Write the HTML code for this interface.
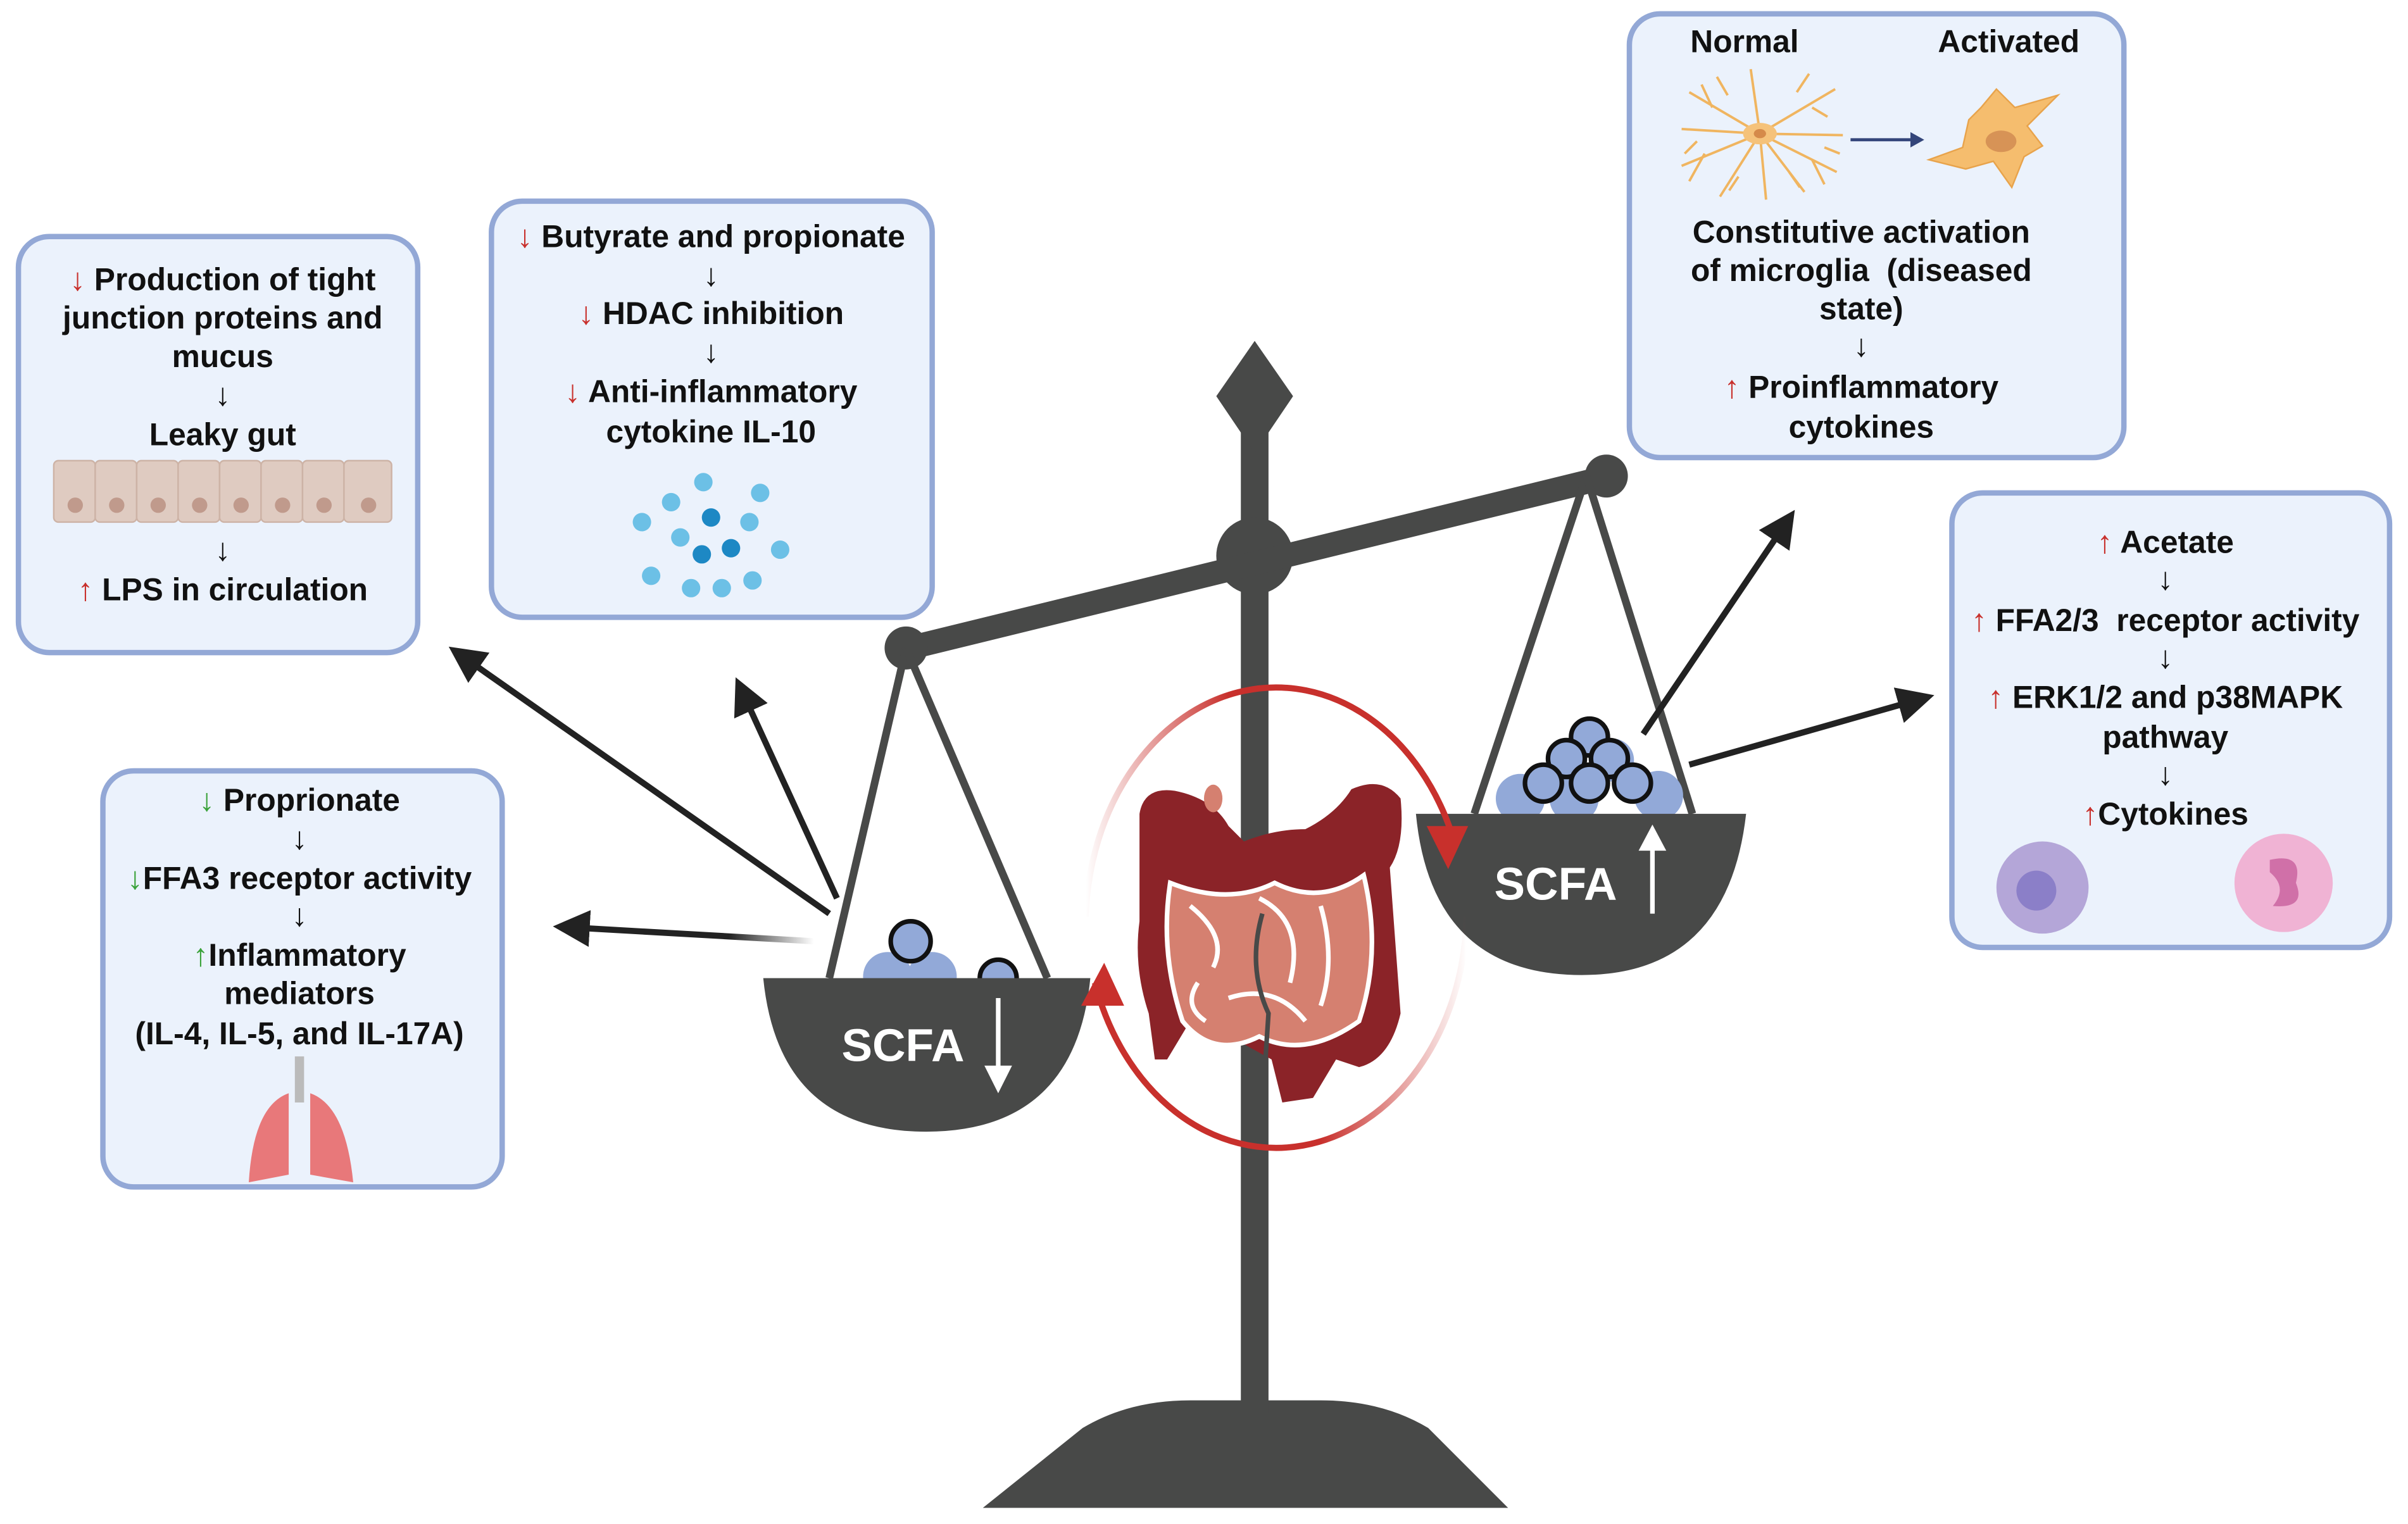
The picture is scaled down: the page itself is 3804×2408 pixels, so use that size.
<!DOCTYPE html>
<html><head><meta charset="utf-8"><style>
html,body{margin:0;padding:0;background:#fff;}
svg{display:block;}
text{font-family:"Liberation Sans",sans-serif;font-weight:bold;fill:#111;}
.c{text-anchor:middle;font-size:20.5px;}
.r{fill:#c8302c;}
.g{fill:#3aa23a;}
</style></head><body>
<svg width="3804" height="2408" viewBox="0 0 1568 992.5" xmlns="http://www.w3.org/2000/svg">
<defs>
<linearGradient id="fadeL" x1="1" y1="0" x2="0" y2="0"><stop offset="0" stop-color="#222" stop-opacity="0"/><stop offset="0.35" stop-color="#222"/><stop offset="1" stop-color="#222"/></linearGradient>
<linearGradient id="cycB" gradientUnits="userSpaceOnUse" x1="707" y1="0" x2="800" y2="0"><stop offset="0" stop-color="#c8302c" stop-opacity="0"/><stop offset="1" stop-color="#c8302c"/></linearGradient>
<linearGradient id="cycC" gradientUnits="userSpaceOnUse" x1="860" y1="0" x2="955" y2="0"><stop offset="0" stop-color="#c8302c"/><stop offset="1" stop-color="#c8302c" stop-opacity="0"/></linearGradient>
<marker id="ah" markerWidth="6" markerHeight="6" refX="3" refY="3" orient="auto" markerUnits="strokeWidth"><path d="M0,0 L6,3 L0,6 Z" fill="#222"/></marker>
</defs>

<!-- boxes -->
<g fill="#ebf2fc" stroke="#93a8d6" stroke-width="3.5">
<rect x="12" y="154" width="260" height="271" rx="20"/>
<rect x="320" y="131" width="287" height="271" rx="20"/>
<rect x="1061" y="9" width="322" height="289" rx="20"/>
<rect x="1271" y="321" width="285" height="296" rx="20"/>
<rect x="67" y="502" width="260" height="271" rx="20"/>
</g>

<!-- box1 -->
<text class="c" x="145" y="189"><tspan class="r">↓</tspan> Production of tight</text>
<text class="c" x="145" y="214">junction proteins and</text>
<text class="c" x="145" y="239">mucus</text>
<text class="c" x="145" y="264">↓</text>
<text class="c" x="145" y="290">Leaky gut</text>
<g fill="#dfcbc1" stroke="#cdb3a6" stroke-width="1">
<rect x="35" y="300" width="27" height="40" rx="3"/><rect x="62" y="300" width="27" height="40" rx="3"/><rect x="89" y="300" width="27" height="40" rx="3"/><rect x="116" y="300" width="27" height="40" rx="3"/><rect x="143" y="300" width="27" height="40" rx="3"/><rect x="170" y="300" width="27" height="40" rx="3"/><rect x="197" y="300" width="27" height="40" rx="3"/><rect x="224" y="300" width="31" height="40" rx="3"/>
</g>
<g fill="#c09a8c"><circle cx="49" cy="329" r="5"/><circle cx="76" cy="329" r="5"/><circle cx="103" cy="329" r="5"/><circle cx="130" cy="329" r="5"/><circle cx="157" cy="329" r="5"/><circle cx="184" cy="329" r="5"/><circle cx="211" cy="329" r="5"/><circle cx="240" cy="329" r="5"/></g>
<text class="c" x="145" y="365">↓</text>
<text class="c" x="145" y="391"><tspan class="r">↑</tspan> LPS in circulation</text>

<!-- box2 -->
<text class="c" x="463" y="161"><tspan class="r">↓</tspan> Butyrate and propionate</text>
<text class="c" x="463" y="186">↓</text>
<text class="c" x="463" y="211"><tspan class="r">↓</tspan> HDAC inhibition</text>
<text class="c" x="463" y="236">↓</text>
<text class="c" x="463" y="262"><tspan class="r">↓</tspan> Anti-inflammatory</text>
<text class="c" x="463" y="288">cytokine IL-10</text>
<g fill="#6cc0e6"><circle cx="458" cy="314" r="6"/><circle cx="495" cy="321" r="6"/><circle cx="437" cy="327" r="6"/><circle cx="488" cy="340" r="6"/><circle cx="418" cy="340" r="6"/><circle cx="443" cy="350" r="6"/><circle cx="508" cy="358" r="6"/><circle cx="424" cy="375" r="6"/><circle cx="450" cy="383" r="6"/><circle cx="470" cy="383" r="6"/><circle cx="490" cy="378" r="6"/></g>
<g fill="#1d88c4"><circle cx="463" cy="337" r="6"/><circle cx="457" cy="361" r="6"/><circle cx="476" cy="357" r="6"/></g>

<!-- box3 -->
<text x="1136" y="34" style="font-size:20.5px;text-anchor:middle">Normal</text>
<text x="1308" y="34" style="font-size:20.5px;text-anchor:middle">Activated</text>
<g stroke="#f0b560" stroke-width="1.6" fill="none">
<path d="M1146,87 L1100,60 M1146,87 L1195,58 M1146,87 L1095,108 M1146,87 L1196,112 M1146,87 L1140,45 M1146,87 L1150,130 M1146,87 L1120,128 M1146,87 L1175,125 M1146,87 L1095,84 M1146,87 L1200,88 M1115,70 L1108,55 M1180,70 L1190,76 M1110,100 L1100,118 M1180,104 L1188,120 M1125,62 L1118,50 M1170,60 L1178,48 M1105,92 L1097,100 M1188,96 L1198,100 M1132,115 L1126,124 M1165,112 L1172,122"/>
</g>
<ellipse cx="1146" cy="87" rx="11" ry="7" fill="#f5c27a"/><ellipse cx="1146" cy="87" rx="4" ry="3" fill="#d58a4a"/>
<line x1="1205" y1="91" x2="1244" y2="91" stroke="#33457a" stroke-width="2"/><path d="M1244,86 L1253,91 L1244,96 Z" fill="#33457a"/>
<path d="M1300,58 L1312,70 L1340,62 L1320,82 L1330,95 L1318,102 L1310,122 L1298,105 L1280,110 L1256,104 L1278,96 L1282,78 L1290,70 Z" fill="#f5bd6e" stroke="#e8a34b" stroke-width="1"/>
<ellipse cx="1303" cy="92" rx="10" ry="7" fill="#d79356"/>
<text class="c" x="1212" y="158">Constitutive activation</text>
<text class="c" x="1212" y="183">of microglia&#160; (diseased</text>
<text class="c" x="1212" y="208">state)</text>
<text class="c" x="1212" y="232">↓</text>
<text class="c" x="1212" y="259"><tspan class="r">↑</tspan> Proinflammatory</text>
<text class="c" x="1212" y="285">cytokines</text>

<!-- box4 -->
<text class="c" x="1410" y="360"><tspan class="r">↑</tspan> Acetate</text>
<text class="c" x="1410" y="384">↓</text>
<text class="c" x="1410" y="411"><tspan class="r">↑</tspan> FFA2/3&#160; receptor activity</text>
<text class="c" x="1410" y="435">↓</text>
<text class="c" x="1410" y="461"><tspan class="r">↑</tspan> ERK1/2 and p38MAPK</text>
<text class="c" x="1410" y="487">pathway</text>
<text class="c" x="1410" y="511">↓</text>
<text class="c" x="1410" y="537"><tspan class="r">↑</tspan>Cytokines</text>
<circle cx="1330" cy="578" r="30" fill="#b4a6d8"/><circle cx="1326" cy="580" r="13" fill="#8b7fc8"/>
<circle cx="1487" cy="575" r="32" fill="#f0b3d4"/><path d="M1478,560 Q1500,555 1495,575 Q1502,592 1480,590 Q1490,578 1478,568 Z" fill="#d070a8"/>

<!-- box5 -->
<text class="c" x="195" y="528"><tspan class="g">↓</tspan> Proprionate</text>
<text class="c" x="195" y="553">↓</text>
<text class="c" x="195" y="579"><tspan class="g">↓</tspan>FFA3 receptor activity</text>
<text class="c" x="195" y="603">↓</text>
<text class="c" x="195" y="629"><tspan class="g">↑</tspan>Inflammatory</text>
<text class="c" x="195" y="654">mediators</text>
<text class="c" x="195" y="680">(IL-4, IL-5, and IL-17A)</text>
<rect x="192" y="688" width="6" height="30" fill="#bbb"/>
<path d="M188,712 Q165,720 162,770 L188,765 Z" fill="#e8787a"/>
<path d="M202,712 Q225,720 230,770 L202,765 Z" fill="#e8787a"/>

<!-- scale -->
<g fill="#484948">
<path d="M640,982 L982,982 L930,930 Q900,912 860,912 L775,912 Q735,912 705,930 Z"/>
<rect x="808" y="280" width="18" height="640"/>
<path d="M817,222 L842,258 L817,295 L792,258 Z"/>
<circle cx="817" cy="362" r="25"/>
<path d="M588,415 L1045,303 L1049,318 L592,430 Z"/>
<circle cx="590" cy="422" r="14"/><circle cx="1046" cy="310" r="14"/>
</g>
<g stroke="#484948" stroke-width="5">
<line x1="590" y1="422" x2="540" y2="637"/><line x1="590" y1="422" x2="682" y2="637"/>
<line x1="1033" y1="310" x2="960" y2="530"/><line x1="1033" y1="310" x2="1102" y2="530"/>
</g>

<!-- arrows -->
<g stroke-width="4" fill="none">
<line x1="530" y1="613" x2="372" y2="604" stroke="url(#fadeL)" marker-end="url(#ah)"/>
<line x1="545" y1="585" x2="484" y2="452" stroke="#222" marker-end="url(#ah)"/>
<line x1="540" y1="595" x2="302" y2="428" stroke="#222" marker-end="url(#ah)"/>
<line x1="1070" y1="478" x2="1162" y2="342" stroke="#222" marker-end="url(#ah)"/>
<line x1="1100" y1="498" x2="1248" y2="456" stroke="#222" marker-end="url(#ah)"/>
</g>

<!-- pans -->
<g fill="#92a9d8"><circle cx="578" cy="636" r="16"/><circle cx="607" cy="636" r="16"/></g>
<circle cx="593" cy="613" r="13" fill="#92a9d8" stroke="#111" stroke-width="3"/>
<circle cx="650" cy="637" r="12" fill="#92a9d8" stroke="#111" stroke-width="3"/>
<path d="M497,637 L710,637 Q700,737 603,737 Q507,737 497,637 Z" fill="#484948"/>
<text x="548" y="691" style="font-size:30px;fill:#fff">SCFA</text>
<line x1="650" y1="650" x2="650" y2="696" stroke="#fff" stroke-width="3"/><path d="M641,694 L659,694 L650,712 Z" fill="#fff"/>

<g fill="#92a9d8"><circle cx="990" cy="520" r="16"/><circle cx="1050" cy="495" r="14"/><circle cx="1080" cy="518" r="16"/><circle cx="1025" cy="520" r="16"/></g>
<g fill="#92a9d8" stroke="#111" stroke-width="3"><circle cx="1035" cy="480" r="12"/><circle cx="1020" cy="494" r="12"/><circle cx="1048" cy="494" r="12"/><circle cx="1005" cy="510" r="12"/><circle cx="1035" cy="510" r="12"/><circle cx="1063" cy="510" r="12"/></g>
<path d="M922,530 L1137,530 Q1125,635 1030,635 Q932,635 922,530 Z" fill="#484948"/>
<text x="973" y="586" style="font-size:30px;fill:#fff">SCFA</text>
<line x1="1076" y1="595" x2="1076" y2="552" stroke="#fff" stroke-width="3"/><path d="M1067,554 L1085,554 L1076,537 Z" fill="#fff"/>

<!-- red cycle -->
<path d="M707,597 A124,155 0 0 1 946,545" fill="none" stroke="url(#cycB)" stroke-width="4"/>
<path d="M713,640 A124,155 0 0 0 955,597" fill="none" stroke="url(#cycC)" stroke-width="4"/>
<path d="M929,538 L956,538 L943,566 Z" fill="#c8302c"/>
<path d="M704,655 L732,655 L719,627 Z" fill="#c8302c"/>

<!-- gut -->
<path d="M742,530 Q745,512 765,515 Q790,520 800,538 L810,548 Q830,540 850,540 Q870,530 880,514 Q900,505 912,520 Q915,550 905,565 L912,660 Q905,690 885,695 L870,690 L855,715 L835,718 L828,690 L810,680 L790,660 L775,665 L760,690 L752,690 L748,660 Q738,630 742,600 Z" fill="#8b2328"/>
<ellipse cx="790" cy="520" rx="6" ry="9" fill="#d58070"/>
<path d="M762,575 Q800,590 830,575 Q860,590 888,570 Q900,620 885,665 Q850,690 820,675 Q790,690 770,665 Q755,620 762,575 Z" fill="#d58070" stroke="#fff" stroke-width="3"/>
<path d="M775,590 Q800,610 790,630 M820,585 Q850,600 840,640 M860,590 Q870,625 860,655 M800,650 Q830,640 850,665 M780,640 Q770,655 785,665" stroke="#fff" stroke-width="3" fill="none"/>
<path d="M822,595 Q812,630 826,660 L824,690" stroke="#484948" stroke-width="3" fill="none"/>
</svg>
</body></html>
